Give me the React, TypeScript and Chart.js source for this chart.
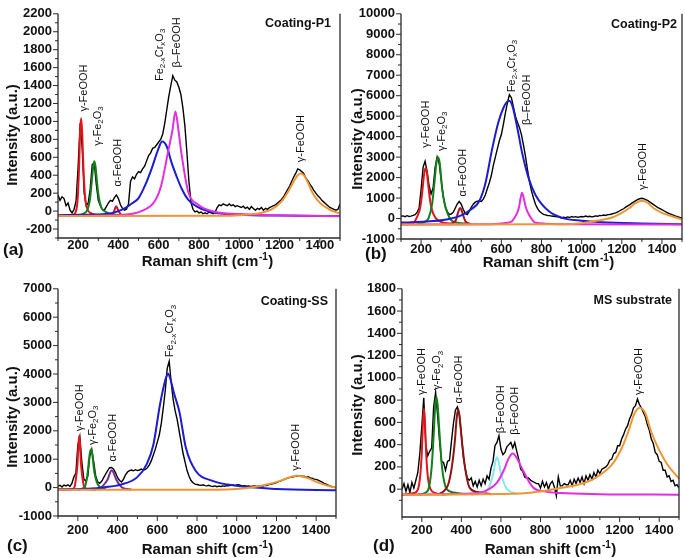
import React, { useEffect, useRef } from "react";
import { Chart, registerables } from "chart.js";
Chart.register(...registerables);

const FONT = "'Liberation Sans', Arial, Helvetica, sans-serif";

// Raman shift grid of the measured spectra (cm-1)
const spectrumShift = [
  100, 110, 120, 130, 140, 150, 160, 170, 180, 190,
  200, 210, 220, 230, 240, 250, 260, 270, 280, 290,
  300, 310, 320, 330, 340, 350, 360, 370, 380, 390,
  400, 410, 420, 430, 440, 450, 460, 470, 480, 490,
  500, 510, 520, 530, 540, 550, 560, 570, 580, 590,
  600, 610, 620, 630, 640, 650, 660, 670, 680, 690,
  700, 710, 720, 730, 740, 750, 760, 770, 780, 790,
  800, 810, 820, 830, 840, 850, 860, 870, 880, 890,
  900, 910, 920, 930, 940, 950, 960, 970, 980, 990,
  1000, 1010, 1020, 1030, 1040, 1050, 1060, 1070, 1080, 1090,
  1100, 1110, 1120, 1130, 1140, 1150, 1160, 1170, 1180, 1190,
  1200, 1210, 1220, 1230, 1240, 1250, 1260, 1270, 1280, 1290,
  1300, 1310, 1320, 1330, 1340, 1350, 1360, 1370, 1380, 1390,
  1400, 1410, 1420, 1430, 1440, 1450, 1460, 1470, 1480, 1490,
  1500,
];

const xTickLabels = ["200", "400", "600", "800", "1000", "1200", "1400"];

// ---------- (a) Coating-P1 ----------
const p1Measured = [
  180, 120, 160, 140, 60, 90, 10, -20, 20, 120,
  500, 980, 700, 200, 60, 90, 250, 520, 540, 300,
  120, 60, 20, 10, 50, 90, 120, 110, 150, 180,
  140, 70, 30, 10, 20, 80, 330, 380, 360, 410,
  440, 430, 470, 500, 560, 620, 650, 700, 710, 740,
  770, 800, 860, 980, 1130, 1280, 1400, 1510, 1460, 1440,
  1380, 1300, 1150, 950, 650, 330, 100, 20, -10, 0,
  -20, -10, -30, -20, -30, -10, -20, -30, -10, 40,
  70, 60, 80, 70, 60, 80, 60, 70, 50, 60,
  50, 40, 55, 30, 45, 20, 50, 30, 10, 30,
  20, 40, 10, 30, 20, 40, 50, 60, 70, 90,
  110, 130, 160, 200, 240, 280, 330, 380, 420, 470,
  460, 440, 420, 370, 340, 300, 270, 230, 200, 170,
  150, 120, 100, 80, 60, 40, 30, 20, 10, 20,
  80,
];
const p1RedX = [100, 170, 188, 198, 205, 210, 215, 220, 226, 234, 245, 265, 300, 400];
const p1RedY = [-55, -45, -10, 150, 520, 900, 1035, 880, 500, 170, 30, -25, -45, -52];
const p1GreenX = [180, 225, 245, 258, 268, 275, 280, 286, 293, 302, 315, 330, 360, 420];
const p1GreenY = [-50, -30, 10, 120, 340, 500, 555, 500, 340, 160, 40, 0, -30, -48];
const p1AlphaX = [340, 365, 378, 384, 389, 394, 402, 414, 440];
const p1AlphaY = [-55, -40, -5, 35, 55, 35, -5, -40, -55];
const p1BlueX = [100, 250, 350, 400, 435, 470, 500, 535, 565, 598, 617, 640, 663, 690, 713, 746, 795, 878, 1000, 1200, 1500];
const p1BlueY = [-47, -40, -30, 0, 36, 90, 145, 300, 473, 692, 775, 720, 546, 380, 255, 128, 44, -18, -40, -50, -55];
const p1MagentaX = [100, 400, 514, 580, 613, 646, 668, 683, 698, 712, 746, 795, 878, 993, 1240, 1500];
const p1MagentaY = [-55, -44, 0, 109, 292, 656, 900, 1111, 900, 656, 219, 73, -8, -33, -48, -57];
const p1OrangeX = [100, 900, 1000, 1111, 1160, 1210, 1243, 1270, 1290, 1305, 1320, 1340, 1360, 1385, 1410, 1450, 1500];
const p1OrangeY = [-55, -52, -45, -18, 18, 109, 219, 330, 400, 419, 400, 320, 219, 130, 73, 15, -28];
const p1LabelX = [227, 296, 398, 605, 691, 1305];
const p1LabelY = [1110, 730, 273, 1450, 1600, 546];

// ---------- (b) Coating-P2 ----------
const p2Measured = [
  110, 130, 90, 140, 100, 120, 150, 190, 300, 500,
  1400, 2500, 2800, 2300, 1600, 1200, 1500, 2500, 3000, 2700,
  1900, 1100, 600, 350, 200, 220, 300, 500, 700, 830,
  700, 450, 250, 190, 350, 550, 700, 800, 850, 860,
  830, 950, 1150, 1450, 1750, 2100, 2600, 3000, 3400, 3800,
  4100, 4600, 5150, 5650, 6050, 5900, 5450, 5000, 4700, 4450,
  4100, 3600, 3050, 2400, 1800, 1350, 1000, 700, 500, 350,
  270, 200, 180, 150, 140, 120, 110, 100, 90, 60,
  30, 60, 40, 80, 50, 100, 70, 90, 60, 80,
  100, 80, 120, 90, 110, 80, 100, 130, 110, 150,
  140, 170, 150, 190, 200, 220, 250, 280, 320, 380,
  430, 490, 560, 620, 680, 750, 810, 870, 930, 970,
  990, 960, 920, 880, 800, 740, 670, 600, 530, 480,
  430, 380, 320, 270, 230, 190, 150, 110, 80, 50,
  30,
];
const p2RedX = [100, 160, 180, 195, 205, 212, 218, 223, 228, 234, 242, 252, 272, 300, 360];
const p2RedY = [-280, -230, 80, 500, 1200, 1900, 2350, 2460, 2300, 1800, 1100, 500, 30, -170, -260];
const p2GreenX = [180, 220, 238, 255, 267, 276, 285, 293, 305, 318, 332, 347, 380, 440];
const p2GreenY = [-270, -150, 30, 700, 1792, 2700, 2990, 2700, 1472, 700, 250, -48, -200, -260];
const p2AlphaX = [330, 362, 374, 383, 390, 395, 401, 410, 422, 450];
const p2AlphaY = [-280, -200, -60, 250, 450, 510, 420, 150, -150, -270];
const p2BlueX = [100, 200, 327, 408, 450, 489, 520, 554, 585, 610, 628, 640, 655, 680, 703, 735, 770, 837, 903, 1000, 1100, 1300, 1500];
const p2BlueY = [-200, -160, -48, 192, 450, 832, 1700, 3392, 4700, 5400, 5700, 5744, 5500, 4400, 3232, 2000, 1152, 352, 32, -110, -180, -240, -280];
const p2MagentaX = [100, 550, 620, 653, 675, 687, 696, 703, 710, 723, 740, 770, 820, 900, 1500];
const p2MagentaY = [-290, -275, -220, -128, 200, 512, 1000, 1264, 1050, 512, 150, -208, -250, -275, -290];
const p2OrangeX = [100, 900, 1000, 1080, 1155, 1200, 1238, 1270, 1302, 1330, 1357, 1400, 1452, 1500];
const p2OrangeY = [-290, -280, -230, -100, 64, 280, 512, 760, 864, 760, 512, 280, 100, -48];
const p2LabelX = [225, 303, 407, 652, 727, 1308];
const p2LabelY = [3460, 3300, 1070, 6170, 4570, 1390];

// ---------- (c) Coating-SS ----------
const p3Measured = [
  50, 80, 20, 90, 60, 100, 40, 150, 380, 500,
  1500, 1800, 900, 300, 230, 400, 1100, 1350, 900, 400,
  200, 150, 220, 350, 480, 600, 700, 710, 650, 520,
  350, 250, 200, 300, 450, 550, 600, 620, 590, 630,
  600, 620, 650, 610, 640, 700, 800, 950, 1150, 1350,
  1600, 1850, 2250, 2800, 3400, 4200, 4450, 3700, 3100, 2700,
  2400, 2000, 1600, 1200, 900, 600, 400, 250, 170, 120,
  110, 90, 80, 100, 70, 60, 80, 50, 40, 60,
  30, 50, 40, 60, 50, 70, 60, 80, 90, 70,
  90, 100, 80, 60, 70, 50, 60, 40, 50, 60,
  40, 60, 70, 50, 80, 70, 100, 120, 130, 150,
  180, 210, 230, 260, 290, 320, 340, 360, 370, 390,
  410, 400, 420, 390, 400, 370, 380, 340, 330, 300,
  290, 260, 230, 190, 150, 120, 90, 60, 30, 10,
  0,
];
const p3RedX = [100, 170, 184, 192, 198, 203, 207, 211, 216, 224, 233, 250, 290];
const p3RedY = [-80, -60, 40, 400, 824, 1500, 1833, 1500, 824, 300, 20, -50, -75];
const p3GreenX = [200, 233, 245, 252, 259, 266, 273, 282, 295, 310, 340];
const p3GreenY = [-75, 20, 300, 708, 1150, 1346, 1150, 592, 200, 20, -60];
const p3AlphaX = [280, 318, 340, 351, 362, 370, 380, 392, 405, 425, 470];
const p3AlphaY = [-75, 10, 180, 302, 520, 615, 520, 302, 150, -10, -65];
const p3BlueX = [100, 250, 334, 416, 498, 547, 580, 613, 630, 643, 655, 667, 685, 711, 744, 793, 875, 990, 1200, 1500];
const p3BlueY = [-60, -40, 12, 104, 360, 824, 1500, 2900, 3490, 3850, 4010, 3800, 3300, 2680, 1400, 592, 244, 70, -50, -90];
const p3OrangeX = [100, 900, 1000, 1080, 1162, 1210, 1244, 1275, 1302, 1330, 1357, 1407, 1456, 1500];
const p3OrangeY = [-80, -75, -50, 12, 128, 220, 302, 380, 418, 390, 336, 186, 70, 0];
const p3LabelX = [209, 274, 378, 666, 1300];
const p3LabelY = [1980, 1500, 915, 4590, 590];

// ---------- (d) MS substrate ----------
const p4Measured = [
  0, 50, -20, 40, -30, 60, 10, 80, 150, 320,
  560, 820, 400, 300, 340, 370, 740, 870, 660, 430,
  250, 240, 170, 250, 260, 430, 590, 710, 740, 670,
  490, 290, 180, 100, 80, 100, 30, 70, 20, 80,
  30, 90, 50, 120, 90, 190, 250, 390, 420, 480,
  360, 310, 330, 380, 400, 420, 370, 420, 340, 270,
  180, 160, 110, 100, 100, 80, 70, 60, 50, 50,
  10, 70, 20, 60, 0, 50, 70, 20, -60, 110,
  30, 30, 50, 40, 40, 80, 30, 90, 50, 100,
  60, 110, 50, 120, 80, 130, 90, 150, 110, 170,
  140, 180, 190, 200, 220, 260, 270, 320, 330, 390,
  390, 450, 490, 540, 570, 630, 670, 730, 750, 810,
  760, 730, 690, 650, 580, 530, 450, 410, 330, 310,
  250, 240, 170, 170, 110, 120, 70, 80, 30, 40,
  10,
];
const p4RedX = [100, 160, 180, 192, 200, 206, 211, 216, 222, 230, 244, 270, 320];
const p4RedY = [-50, -35, -5, 120, 330, 600, 725, 600, 330, 120, 0, -35, -48];
const p4GreenX = [180, 220, 236, 250, 261, 268, 274, 280, 289, 302, 326, 360, 420];
const p4GreenY = [-48, -30, 15, 200, 518, 760, 829, 760, 518, 200, 0, -30, -45];
const p4AlphaX = [280, 310, 334, 352, 367, 377, 384, 391, 403, 418, 441, 480, 550];
const p4AlphaY = [-48, -20, 44, 200, 429, 650, 719, 650, 429, 200, 15, -25, -45];
const p4CyanX = [450, 510, 539, 554, 564, 572, 580, 588, 597, 610, 631, 680];
const p4CyanY = [-50, -30, 15, 90, 163, 250, 287, 250, 163, 80, 0, -40];
const p4MagentaX = [100, 400, 498, 540, 580, 613, 640, 660, 680, 713, 763, 820, 900, 1100, 1500];
const p4MagentaY = [-50, -42, -30, 0, 59, 163, 280, 320, 280, 163, 15, -20, -35, -45, -50];
const p4OrangeX = [100, 700, 800, 916, 998, 1080, 1162, 1211, 1244, 1275, 1302, 1330, 1359, 1392, 1441, 1500];
const p4OrangeY = [-50, -40, -20, 15, 44, 104, 222, 370, 518, 680, 731, 680, 518, 380, 222, 95];
const p4LabelX = [201, 277, 388, 599, 673, 1300];
const p4LabelY = [845, 890, 770, 503, 489, 845];

// ---------- label texts (segments: [text, 1 = subscript]) ----------
type Seg = [string, number];
const gFeOOH: Seg[] = [["γ-FeOOH", 0]];
const gFe2O3: Seg[] = [["γ-Fe", 0], ["2", 1], ["O", 0], ["3", 1]];
const aFeOOH: Seg[] = [["α-FeOOH", 0]];
const feCr: Seg[] = [["Fe", 0], ["2-x", 1], ["Cr", 0], ["x", 1], ["O", 0], ["3", 1]];
const bFeOOHdash: Seg[] = [["β–FeOOH", 0]];
const bFeOOH: Seg[] = [["β-FeOOH", 0]];

const p1Labels = [gFeOOH, gFe2O3, aFeOOH, feCr, bFeOOHdash, gFeOOH];
const p2Labels = [gFeOOH, gFe2O3, aFeOOH, feCr, bFeOOHdash, gFeOOH];
const p3Labels = [gFeOOH, gFe2O3, aFeOOH, feCr, gFeOOH];
const p4Labels = [gFeOOH, gFe2O3, aFeOOH, bFeOOH, bFeOOH, gFeOOH];

const RED = "#e3141a";
const GREEN = "#12801a";
const BLUE = "#1c1cd0";
const MAGENTA = "#e22ee2";
const ORANGE = "#ef9533";
const CYAN = "#84e9ee";

interface Panel {
  left: number; top: number; w: number; h: number;
  pl: number; pt: number; pr: number; pb: number;
  yMin: number; yMax: number; yStep: number; yMajor: number;
  xPad: number;
  yTitle: [number, number]; xTitle: [number, number];
  letter: string; letterPos: [number, number];
  sample: string; samplePos: [number, number];
  measured: number[];
  comps: { xs: number[]; ys: number[]; color: string }[];
  labelX: number[]; labelY: number[]; labels: Seg[][];
}

const panels: Panel[] = [
  {
    left: 0, top: 0, w: 343, h: 275, pl: 58, pt: 13, pr: 340, pb: 238,
    yMin: -300, yMax: 2200, yStep: 100, yMajor: 200, xPad: 0,
    yTitle: [12.5, 135], xTitle: [207, 262], letter: "(a)", letterPos: [3, 250],
    sample: "Coating-P1", samplePos: [331, 24], measured: p1Measured,
    comps: [
      { xs: p1OrangeX, ys: p1OrangeY, color: ORANGE },
      { xs: p1MagentaX, ys: p1MagentaY, color: MAGENTA },
      { xs: p1BlueX, ys: p1BlueY, color: BLUE },
      { xs: p1AlphaX, ys: p1AlphaY, color: "#c8143c" },
      { xs: p1GreenX, ys: p1GreenY, color: GREEN },
      { xs: p1RedX, ys: p1RedY, color: RED },
    ],
    labelX: p1LabelX, labelY: p1LabelY, labels: p1Labels,
  },
  {
    left: 343, top: 0, w: 342, h: 275, pl: 58, pt: 8, pr: 340, pb: 239,
    yMin: -1000, yMax: 10000, yStep: 500, yMajor: 1000, xPad: 3,
    yTitle: [14.5, 139], xTitle: [205, 263], letter: "(b)", letterPos: [22, 254],
    sample: "Coating-P2", samplePos: [334, 25], measured: p2Measured,
    comps: [
      { xs: p2OrangeX, ys: p2OrangeY, color: ORANGE },
      { xs: p2MagentaX, ys: p2MagentaY, color: MAGENTA },
      { xs: p2BlueX, ys: p2BlueY, color: BLUE },
      { xs: p2AlphaX, ys: p2AlphaY, color: "#a8141a" },
      { xs: p2GreenX, ys: p2GreenY, color: GREEN },
      { xs: p2RedX, ys: p2RedY, color: RED },
    ],
    labelX: p2LabelX, labelY: p2LabelY, labels: p2Labels,
  },
  {
    left: 0, top: 275, w: 343, h: 283, pl: 58, pt: 11, pr: 340, pb: 241,
    yMin: -1000, yMax: 7000, yStep: 500, yMajor: 1000, xPad: 7,
    yTitle: [12.5, 142], xTitle: [207, 275], letter: "(c)", letterPos: [7, 271.5],
    sample: "Coating-SS", samplePos: [328, 27], measured: p3Measured,
    comps: [
      { xs: p3OrangeX, ys: p3OrangeY, color: ORANGE },
      { xs: p3BlueX, ys: p3BlueY, color: BLUE },
      { xs: p3AlphaX, ys: p3AlphaY, color: "#7d2a92" },
      { xs: p3GreenX, ys: p3GreenY, color: GREEN },
      { xs: p3RedX, ys: p3RedY, color: RED },
    ],
    labelX: p3LabelX, labelY: p3LabelY, labels: p3Labels,
  },
  {
    left: 343, top: 275, w: 342, h: 283, pl: 59, pt: 11, pr: 340, pb: 242,
    yMin: -250, yMax: 1800, yStep: 100, yMajor: 200, xPad: 6,
    yTitle: [14.5, 130], xTitle: [207, 275], letter: "(d)", letterPos: [30, 271],
    sample: "MS substrate", samplePos: [329, 26], measured: p4Measured,
    comps: [
      { xs: p4OrangeX, ys: p4OrangeY, color: ORANGE },
      { xs: p4MagentaX, ys: p4MagentaY, color: MAGENTA },
      { xs: p4CyanX, ys: p4CyanY, color: CYAN },
      { xs: p4AlphaX, ys: p4AlphaY, color: "#8e1212" },
      { xs: p4GreenX, ys: p4GreenY, color: GREEN },
      { xs: p4RedX, ys: p4RedY, color: RED },
    ],
    labelX: p4LabelX, labelY: p4LabelY, labels: p4Labels,
  },
];

function drawSegs(ctx: CanvasRenderingContext2D, segs: Seg[], size: number) {
  let x = 0;
  for (const [t, sub] of segs) {
    const s = sub ? size * 0.72 : size;
    ctx.font = `${s}px ${FONT}`;
    ctx.fillText(t, x, sub ? size * 0.32 : 0);
    x += ctx.measureText(t).width;
  }
}

function makePlugin(p: Panel) {
  return {
    id: "panelDecor",
    afterDraw(chart: any) {
      const ctx: CanvasRenderingContext2D = chart.ctx;
      const { left, right, top, bottom } = chart.chartArea;
      const xs = chart.scales.x;
      const ys = chart.scales.y;
      ctx.save();
      ctx.strokeStyle = "#2a2a2a";
      ctx.lineWidth = 1.3;
      ctx.beginPath();
      ctx.moveTo(left, top);
      ctx.lineTo(left, bottom);
      ctx.lineTo(right, bottom);
      ctx.lineTo(right, top);
      ctx.stroke();
      ctx.lineWidth = 1;
      ctx.beginPath();
      for (const t of xs.ticks) {
        const px = xs.getPixelForValue(t.value);
        const len = t.value % 200 === 0 ? 5 : 3;
        ctx.moveTo(px, bottom);
        ctx.lineTo(px, bottom + len);
      }
      for (const t of ys.ticks) {
        if (t.value % 100 !== 0) continue;
        const py = ys.getPixelForValue(t.value);
        const len = t.value % p.yMajor === 0 ? 5 : 3;
        ctx.moveTo(left, py);
        ctx.lineTo(left - len, py);
      }
      ctx.stroke();

      // peak annotations
      ctx.fillStyle = "#111";
      ctx.textAlign = "left";
      ctx.textBaseline = "middle";
      p.labels.forEach((segs, i) => {
        const px = xs.getPixelForValue(p.labelX[i]);
        const py = ys.getPixelForValue(p.labelY[i]);
        ctx.save();
        ctx.translate(px, py);
        ctx.rotate(-Math.PI / 2);
        drawSegs(ctx, segs, 11);
        ctx.restore();
      });

      // axis titles
      ctx.fillStyle = "#111";
      ctx.font = `bold 15px ${FONT}`;
      ctx.save();
      ctx.translate(p.yTitle[0], p.yTitle[1]);
      ctx.rotate(-Math.PI / 2);
      ctx.textAlign = "center";
      ctx.textBaseline = "middle";
      ctx.fillText("Intensity (a.u.)", 0, 0);
      ctx.restore();

      const main = "Raman shift (cm";
      const sup = "-1";
      const close = ")";
      ctx.font = `bold 15px ${FONT}`;
      const w1 = ctx.measureText(main).width;
      const w3 = ctx.measureText(close).width;
      ctx.font = `bold 10px ${FONT}`;
      const w2 = ctx.measureText(sup).width;
      const x0 = p.xTitle[0] - (w1 + w2 + w3) / 2;
      ctx.textAlign = "left";
      ctx.textBaseline = "middle";
      ctx.font = `bold 15px ${FONT}`;
      ctx.fillText(main, x0, p.xTitle[1]);
      ctx.font = `bold 10px ${FONT}`;
      ctx.fillText(sup, x0 + w1 + 0.5, p.xTitle[1] - 5);
      ctx.font = `bold 15px ${FONT}`;
      ctx.fillText(close, x0 + w1 + w2 + 1, p.xTitle[1]);

      // panel letter and sample name
      ctx.font = `bold 17px ${FONT}`;
      ctx.textAlign = "left";
      ctx.fillText(p.letter, p.letterPos[0], p.letterPos[1]);
      ctx.font = `bold 12.5px ${FONT}`;
      ctx.textAlign = "right";
      ctx.fillText(p.sample, p.samplePos[0], p.samplePos[1]);
      ctx.restore();
    },
  };
}

function PanelChart({ p }: { p: Panel }) {
  const ref = useRef<HTMLCanvasElement | null>(null);
  useEffect(() => {
    if (!ref.current) return;
    const comps = p.comps.map((c) => ({
      data: c.xs.map((x, i) => ({ x, y: c.ys[i] })),
      borderColor: c.color,
      borderWidth: 2,
      pointRadius: 0,
      cubicInterpolationMode: "monotone" as const,
      fill: false,
    }));
    const measured = {
      data: spectrumShift.map((x, i) => ({ x, y: p.measured[i] })),
      borderColor: "#000",
      borderWidth: 1.4,
      pointRadius: 0,
      tension: 0,
      fill: false,
    };
    const tickFont = { family: FONT, size: 13, weight: "bold" as const };
    const chart = new Chart(ref.current, {
      type: "line",
      data: { datasets: [...comps, measured] as any },
      options: {
        animation: false,
        responsive: false,
        events: [],
        layout: { padding: { left: 0, top: p.pt, right: p.w - p.pr, bottom: 0 } },
        plugins: { legend: { display: false }, tooltip: { enabled: false } },
        scales: {
          x: {
            type: "linear",
            min: 100,
            max: 1500,
            grid: { display: false, drawTicks: false },
            border: { display: false },
            ticks: {
              stepSize: 100,
              autoSkip: false,
              maxRotation: 0,
              padding: p.xPad,
              color: "#111",
              font: tickFont,
              callback: (v: any) => {
                const s = String(v);
                return xTickLabels.includes(s) ? s : "";
              },
            },
            afterFit: (s: any) => {
              s.height = p.h - p.pb;
            },
          },
          y: {
            type: "linear",
            min: p.yMin,
            max: p.yMax,
            grid: { display: false, drawTicks: false },
            border: { display: false },
            ticks: {
              stepSize: p.yStep,
              autoSkip: false,
              padding: 6,
              color: "#111",
              font: tickFont,
              callback: (v: any) => (Number(v) % p.yMajor === 0 ? String(v) : ""),
            },
            afterFit: (s: any) => {
              s.width = p.pl;
            },
          },
        },
      },
      plugins: [makePlugin(p)],
    });
    return () => chart.destroy();
  }, [p]);
  return (
    <canvas
      ref={ref}
      width={p.w}
      height={p.h}
      style={{ position: "absolute", left: p.left, top: p.top, width: p.w, height: p.h }}
    />
  );
}

export default function App() {
  return (
    <div style={{ position: "absolute", left: 0, top: 0, width: 685, height: 558, background: "#fff" }}>
      {panels.map((p, i) => (
        <PanelChart key={i} p={p} />
      ))}
    </div>
  );
}
